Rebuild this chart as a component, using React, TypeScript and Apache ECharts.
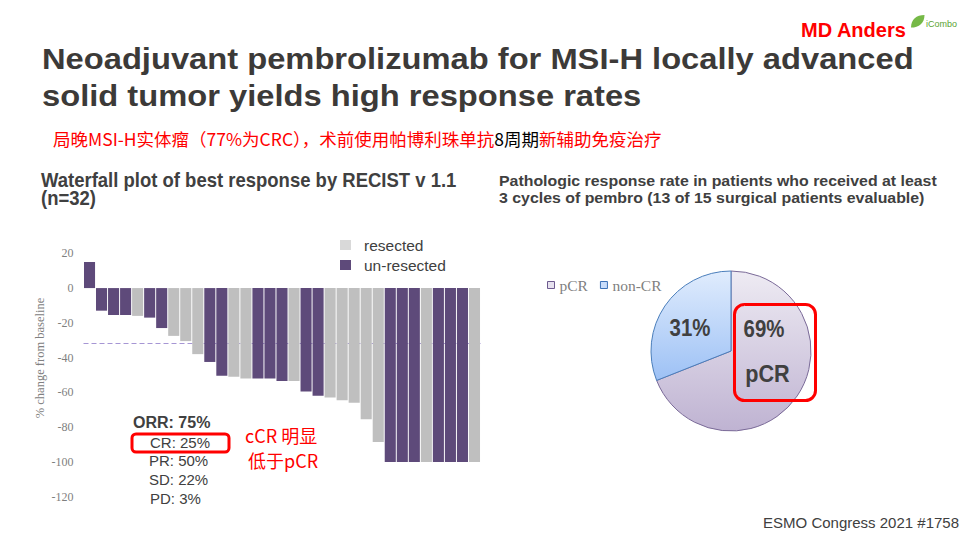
import React, { useEffect, useRef } from 'react';
import * as echarts from 'echarts';

// ---------- Data ----------
const categories = ['1','2','3','4','5','6','7','8','9','10','11','12','13','14','15','16','17','18','19','20','21','22','23','24','25','26','27','28','29','30','31','32','33'];
const bestResponse = [15, -13, -15.5, -15.5, -16, -17, -23, -27.5, -30.5, -38, -42.5, -50.5, -51, -52, -52, -52, -53.5, -53.5, -59.5, -62, -63, -64.5, -66, -75.5, -88.5, -100, -100, -100, -100, -100, -100, -100, -100];
// R = resected, U = un-resected
const resectionStatus = ['U','U','U','U','R','U','U','R','R','R','U','U','R','R','U','U','U','R','U','U','R','R','R','R','R','U','U','U','R','U','U','U','R'];
const yTicks = { min: -120, max: 20, interval: 20 };
const thresholdLine = -32;
const barLegend = ['resected', 'un-resected'];

const pieNames = ['pCR', 'non-CR'];
const pieValues = [69, 31];

const titleLines = ['Neoadjuvant pembrolizumab for MSI-H locally advanced', 'solid tumor yields high response rates'];
const subtitleParts = ['局晚MSI-H实体瘤（77%为CRC），术前使用帕博利珠单抗', '8周期', '新辅助免疫治疗'];
const waterfallHeading = ['Waterfall plot of best response by RECIST v 1.1', '(n=32)'];
const pieHeading = ['Pathologic response rate in patients who received at least', '3 cycles of pembro (13 of 15 surgical patients evaluable)'];
const responseLines = ['ORR: 75%', 'CR: 25%', 'PR: 50%', 'SD: 22%', 'PD: 3%'];
const noteLines = ['cCR 明显', '低于pCR'];
const footer = 'ESMO Congress 2021 #1758';
const brand = 'MD Anders';

const PURPLE = '#5e4a7a';
const GREY = '#bfbfbf';
const DARK = '#404040';

echarts.graphic.registerShape(
  'leaf',
  echarts.graphic.extendPath('M0 14 C0 5 6 0 15 0 C15 9 9 14 0 14 Z', {})
);

function txt(text: string, x: number, y: number, font: string, fill: string, align = 'left', extra: any = {}) {
  return {
    type: 'text',
    x,
    y,
    z: 50,
    ...extra,
    style: {
      text,
      x: 0,
      y: 0,
      font,
      fill,
      align,
      textAlign: align,
      verticalAlign: 'middle',
      textVerticalAlign: 'middle',
    },
  };
}

export default function App() {
  const ref = useRef<HTMLDivElement>(null);

  useEffect(() => {
    if (!ref.current) return;
    const chart = echarts.init(ref.current, null, { renderer: 'svg' });

    const resectedData = bestResponse.map((v, i) => (resectionStatus[i] === 'R' ? v : '-'));
    const unresectedData = bestResponse.map((v, i) => (resectionStatus[i] === 'U' ? v : '-'));

    const pieColors = [
      {
        color: { type: 'linear', x: 0, y: 0, x2: 0, y2: 1, colorStops: [{ offset: 0, color: '#eeebf3' }, { offset: 1, color: '#bfb3d2' }] },
        borderColor: '#7a6a98',
        borderWidth: 1,
      },
      {
        color: { type: 'linear', x: 0, y: 0, x2: 0, y2: 1, colorStops: [{ offset: 0, color: '#e0ecfd' }, { offset: 1, color: '#9dc1f5' }] },
        borderColor: '#4a7ebb',
        borderWidth: 1,
      },
    ];

    const sans = "'Liberation Sans', Arial, sans-serif";
    const serif = "'Liberation Serif', 'Times New Roman', serif";
    const cjk = "'Noto Sans CJK SC', sans-serif";

    const graphics: any[] = [
      // title
      txt(titleLines[0], 42, 59, `bold 30px ${sans}`, '#3c3a38', 'left', { scaleX: 1.09 }),
      txt(titleLines[1], 42, 96, `bold 30px ${sans}`, '#3c3a38', 'left', { scaleX: 1.09 }),
      // subtitle
      {
        type: 'text',
        x: 53,
        y: 138,
        z: 50,
        style: {
          text: `{r|${subtitleParts[0]}}{k|${subtitleParts[1]}}{r|${subtitleParts[2]}}`,
          x: 0,
          y: 0,
          font: `17.5px ${cjk}`,
          verticalAlign: 'middle',
          textVerticalAlign: 'middle',
          rich: {
            r: { fill: '#ff0000', color: '#ff0000', fontSize: 17.5, fontFamily: cjk },
            k: { fill: '#000000', color: '#000000', fontSize: 17.5, fontFamily: cjk },
          },
        },
      },
      // headings
      txt(waterfallHeading[0], 41, 180, `bold 20px ${sans}`, DARK, 'left', { scaleX: 0.925 }),
      txt(waterfallHeading[1], 41, 198, `bold 20px ${sans}`, DARK, 'left', { scaleX: 0.925 }),
      txt(pieHeading[0], 499, 181, `bold 15px ${sans}`, DARK, 'left', { scaleX: 1.06 }),
      txt(pieHeading[1], 499, 198, `bold 15px ${sans}`, DARK, 'left', { scaleX: 1.06 }),
      // y axis name
      txt('% change from baseline', 40, 358, `12.5px ${serif}`, '#808080', 'center', { rotation: Math.PI / 2 }),
      // response annotations
      txt(responseLines[0], 133, 422, `bold 16px ${sans}`, DARK),
      txt(responseLines[1], 150, 442, `15px ${sans}`, DARK),
      txt(responseLines[2], 149, 460, `15px ${sans}`, DARK),
      txt(responseLines[3], 149, 479, `15px ${sans}`, DARK),
      txt(responseLines[4], 150, 498, `15px ${sans}`, DARK),
      {
        type: 'rect',
        z: 60,
        shape: { x: 132, y: 434, width: 97, height: 18, r: 4 },
        style: { fill: 'none', stroke: '#ff0000', lineWidth: 3 },
      },
      txt(noteLines[0], 245, 435, `18px ${cjk}`, '#ff0000'),
      txt(noteLines[1], 248, 460, `18px ${cjk}`, '#ff0000'),
      // pie labels
      txt(`${pieValues[1]}%`, 690, 328, `bold 24px ${sans}`, DARK, 'center', { scaleX: 0.85 }),
      txt(`${pieValues[0]}%`, 764, 329, `bold 24px ${sans}`, DARK, 'center', { scaleX: 0.85 }),
      txt(pieNames[0], 767.5, 374, `bold 24px ${sans}`, DARK, 'center', { scaleX: 0.9 }),
      {
        type: 'rect',
        z: 60,
        shape: { x: 734.5, y: 304.5, width: 81, height: 96, r: 10 },
        style: { fill: 'none', stroke: '#ff0000', lineWidth: 3 },
      },
      // footer
      txt(footer, 959, 522, `15px ${sans}`, DARK, 'right'),
      // brand
      txt(brand, 801, 30, `bold 20px ${sans}`, '#ff0000'),
      { type: 'leaf', x: 911, y: 15, z: 50, scaleX: 0.9, scaleY: 0.9, style: { fill: '#76b947' } },
      txt('iCombo', 926, 24, `9px ${sans}`, '#5aa332'),
    ];

    chart.setOption({
      animation: false,
      backgroundColor: '#ffffff',
      textStyle: { fontFamily: sans },
      grid: { left: 83.5, top: 253.3, width: 397, height: 243.4, containLabel: false },
      legend: [
        {
          data: [
            { name: barLegend[0], itemStyle: { color: '#d9d9d9' } },
            { name: barLegend[1], itemStyle: { color: PURPLE } },
          ],
          orient: 'vertical',
          left: 340,
          top: 237,
          padding: 0,
          itemGap: 4,
          itemWidth: 11,
          itemHeight: 10,
          icon: 'rect',
          selectedMode: false,
          textStyle: { fontSize: 15.5, color: DARK, fontFamily: sans, padding: [0, 0, 0, 8] },
        },
        {
          data: [
            { name: pieNames[0], itemStyle: { color: '#e6e1ee', borderColor: '#6d5a8f', borderWidth: 1 } },
            { name: pieNames[1], itemStyle: { color: '#c9ddfb', borderColor: '#3d72b8', borderWidth: 1 } },
          ],
          orient: 'horizontal',
          left: 547,
          top: 277,
          padding: 0,
          itemGap: 12,
          itemWidth: 7,
          itemHeight: 7,
          icon: 'rect',
          selectedMode: false,
          textStyle: { fontSize: 15.5, color: '#7f7f7f', fontFamily: serif },
        },
      ],
      xAxis: {
        type: 'category',
        data: categories,
        show: true,
        axisLine: { show: false },
        axisTick: { show: false },
        axisLabel: { show: false },
        splitLine: { show: false },
      },
      yAxis: {
        type: 'value',
        min: yTicks.min,
        max: yTicks.max,
        interval: yTicks.interval,
        axisLine: { show: false },
        axisTick: { show: false },
        splitLine: { show: false },
        axisLabel: { color: '#7f7f7f', fontFamily: serif, fontSize: 12, margin: 10 },
      },
      series: [
        {
          name: barLegend[0],
          type: 'bar',
          stack: 'all',
          data: resectedData,
          barCategoryGap: '8%',
          itemStyle: { color: GREY },
          z: 2,
          markLine: {
            z: 1,
            silent: true,
            symbol: 'none',
            label: { show: false },
            lineStyle: { type: [5, 3], color: '#a696d4', width: 1 },
            data: [{ yAxis: thresholdLine }],
          },
        },
        {
          name: barLegend[1],
          type: 'bar',
          stack: 'all',
          data: unresectedData,
          barCategoryGap: '8%',
          itemStyle: { color: PURPLE },
          z: 2,
        },
        {
          type: 'pie',
          center: [731, 351],
          radius: 80,
          startAngle: 90,
          clockwise: true,
          label: { show: false },
          labelLine: { show: false },
          emphasis: { disabled: true },
          data: pieNames.map((n, i) => ({ name: n, value: pieValues[i], itemStyle: pieColors[i] })),
        },
      ],
      graphic: { elements: graphics },
    });

    return () => chart.dispose();
  }, []);

  return (
    <div
      ref={ref}
      style={{ position: 'absolute', left: 0, top: 0, width: 960, height: 540, background: '#fff' }}
    />
  );
}
